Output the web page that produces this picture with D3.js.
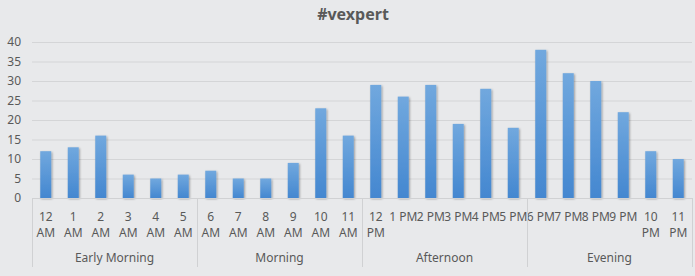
<!DOCTYPE html>
<html>
<head>
<meta charset="utf-8">
<script src="https://cdn.jsdelivr.net/npm/d3@7/dist/d3.min.js"></script>
<style>
  html, body { margin: 0; padding: 0; background: #e8e9eb; }
  svg { display: block; }
</style>
</head>
<body>
<div id="chart"></div>
<script>
const hourLabels = ['12\nAM', '1\nAM', '2\nAM', '3\nAM', '4\nAM', '5\nAM',
  '6\nAM', '7\nAM', '8\nAM', '9\nAM', '10\nAM', '11\nAM',
  '12\nPM', '1 PM', '2 PM', '3 PM', '4 PM', '5 PM',
  '6 PM', '7 PM', '8 PM', '9 PM', '10\nPM', '11\nPM'];
const counts = [12, 13, 16, 6, 5, 6, 7, 5, 5, 9, 23, 16, 29, 26, 29, 19, 28, 18, 38, 32, 30, 22, 12, 10];
const groupNames = ['Early Morning', 'Morning', 'Afternoon', 'Evening'];
const groupSizes = [6, 6, 6, 6];
const yTicks = [0, 5, 10, 15, 20, 25, 30, 35, 40];

const W = 695, H = 276;
const plot = { left: 32, right: 692, top: 42, bottom: 198 };
const font = "'Segoe UI', 'Noto Sans', sans-serif";
const textColor = '#595959';

const svg = d3.select('#chart').append('svg')
  .attr('width', W).attr('height', H);

const defs = svg.append('defs');
const grad = defs.append('linearGradient')
  .attr('id', 'barGrad').attr('x1', 0).attr('x2', 0).attr('y1', 0).attr('y2', 1);
grad.append('stop').attr('offset', '0%').attr('stop-color', '#71a8de');
grad.append('stop').attr('offset', '100%').attr('stop-color', '#4487d0');

const shadow = defs.append('filter').attr('id', 'shadow')
  .attr('x', '-50%').attr('y', '-10%').attr('width', '200%').attr('height', '120%');
shadow.append('feDropShadow')
  .attr('dx', 1).attr('dy', 1).attr('stdDeviation', 1.2)
  .attr('flood-color', '#000').attr('flood-opacity', 0.35);

svg.append('rect').attr('width', W).attr('height', H).attr('fill', '#e8e9eb');

const x = d3.scaleBand().domain(d3.range(counts.length))
  .range([plot.left, plot.right]).paddingInner(0.6).paddingOuter(0.3);
const y = d3.scaleLinear().domain([0, 40]).range([plot.bottom, plot.top]);

// Title
svg.append('text')
  .attr('x', 353).attr('y', 20)
  .attr('text-anchor', 'middle')
  .attr('font-family', font).attr('font-size', '16px').attr('font-weight', 'bold')
  .attr('fill', textColor)
  .text('#vexpert');

// Gridlines
svg.append('g').selectAll('line')
  .data(yTicks.filter(d => d > 0))
  .enter().append('line')
  .attr('x1', plot.left).attr('x2', plot.right)
  .attr('y1', d => y(d) + 0.5).attr('y2', d => y(d) + 0.5)
  .attr('stroke', '#d4d5d7').attr('stroke-width', 1);

// Y axis labels
const yAxis = svg.append('g')
  .attr('transform', `translate(${plot.left},0)`)
  .call(d3.axisLeft(y).tickValues(yTicks).tickSize(0).tickPadding(11));
yAxis.select('.domain').remove();
yAxis.selectAll('text')
  .attr('font-family', font).attr('font-size', '12px').attr('fill', textColor);

// Bars
svg.append('g').selectAll('rect')
  .data(counts)
  .enter().append('rect')
  .attr('x', (d, i) => x(i))
  .attr('y', d => y(d))
  .attr('width', x.bandwidth())
  .attr('height', d => y(0) - y(d))
  .attr('fill', 'url(#barGrad)')
  .attr('filter', 'url(#shadow)');

// X axis line
svg.append('line')
  .attr('x1', plot.left).attr('x2', plot.right)
  .attr('y1', plot.bottom + 0.5).attr('y2', plot.bottom + 0.5)
  .attr('stroke', '#d0d1d3');

// Hour labels
const hourG = svg.append('g');
hourLabels.forEach((lab, i) => {
  const lines = lab.split('\n');
  const t = hourG.append('text')
    .attr('text-anchor', 'middle')
    .attr('font-family', font).attr('font-size', '12px').attr('fill', textColor);
  lines.forEach((ln, k) => {
    t.append('tspan')
      .attr('x', x(i) + x.bandwidth() / 2)
      .attr('y', 221 + k * 16)
      .text(ln);
  });
});

// Group separators and labels
let acc = 0;
const bounds = [0];
groupSizes.forEach(n => { acc += n; bounds.push(acc); });
const step = x.step();
const bx = idx => plot.left + idx * step;

svg.append('g').selectAll('line')
  .data(bounds)
  .enter().append('line')
  .attr('x1', d => Math.round(bx(d)) + 0.5).attr('x2', d => Math.round(bx(d)) + 0.5)
  .attr('y1', plot.bottom).attr('y2', 267)
  .attr('stroke', '#d0d1d3');

svg.append('g').selectAll('text')
  .data(groupNames)
  .enter().append('text')
  .attr('x', (d, i) => (bx(bounds[i]) + bx(bounds[i + 1])) / 2)
  .attr('y', 262)
  .attr('text-anchor', 'middle')
  .attr('font-family', font).attr('font-size', '12px').attr('fill', textColor)
  .text(d => d);
</script>
</body>
</html>
